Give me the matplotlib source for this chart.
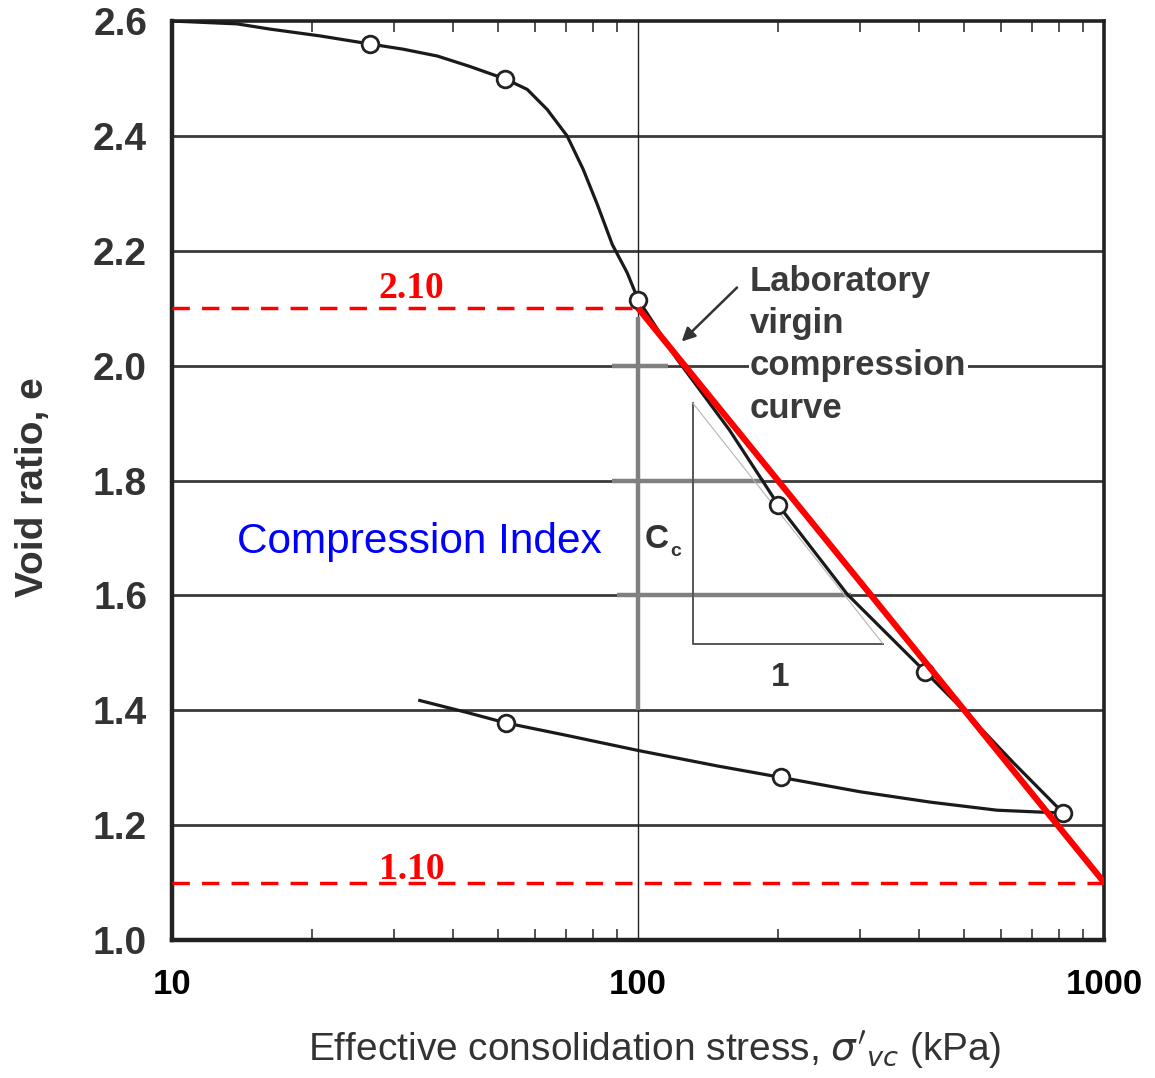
import matplotlib
matplotlib.use("Agg")
import matplotlib.pyplot as plt
from matplotlib.ticker import LogLocator, NullFormatter, FixedLocator, FixedFormatter

plt.rcParams['font.family'] = ['Liberation Sans', 'DejaVu Sans']

# ---- data ----
# virgin (loading) curve trace, stress in kPa, void ratio e
load_curve_x = [10, 13.8, 16.2, 20.8, 26.6, 31.3, 37.1, 43.5, 51.9, 57.8, 63.8, 70.4,
                76.2, 81.7, 88.0, 94.7, 100, 121, 157, 200, 281, 413, 498, 638, 817]
load_curve_e = [2.600, 2.595, 2.586, 2.574, 2.560, 2.551, 2.539, 2.521, 2.499, 2.481,
                2.446, 2.400, 2.342, 2.281, 2.211, 2.162, 2.115, 2.012, 1.888, 1.757,
                1.602, 1.467, 1.401, 1.309, 1.221]
# measured points (open circles) on loading branch
load_pts_x = [26.6, 51.9, 100, 200, 413, 817]
load_pts_e = [2.560, 2.499, 2.115, 1.757, 1.467, 1.221]
# unloading branch trace
unload_curve_x = [34, 43, 52, 70.5, 100, 148, 203, 300, 424, 589, 817]
unload_curve_e = [1.417, 1.396, 1.378, 1.356, 1.330, 1.303, 1.283, 1.258, 1.240, 1.226, 1.221]
unload_pts_x = [52, 203]
unload_pts_e = [1.378, 1.283]

# compression-index construction line (red) and its end values
cc_x = [100, 1000]
cc_e = [2.10, 1.10]
e_upper = 2.10
e_lower = 1.10

y_ticks = [1.0, 1.2, 1.4, 1.6, 1.8, 2.0, 2.2, 2.4, 2.6]
y_tick_labels = ["1.0", "1.2", "1.4", "1.6", "1.8", "2.0", "2.2", "2.4", "2.6"]
x_ticks = [10, 100, 1000]
x_tick_labels = ["10", "100", "1000"]

# ---- figure ----
fig = plt.figure(figsize=(11.55, 10.78), dpi=100)
ax = fig.add_axes([0.149, 0.128, 0.807, 0.8525])
ax.set_xscale('log')
ax.set_xlim(10, 1000)
ax.set_ylim(1.0, 2.6)

# horizontal grid lines
for yv in y_ticks[1:-1]:
    ax.axhline(yv, color='#3a3a3a', lw=2.0, zorder=1)
ax.axvline(100, color='#222222', lw=1.0, zorder=1)

# gray construction lines
gray = '#808080'
ax.plot([100, 100], [2.085, 1.40], color=gray, lw=3.2, zorder=2, solid_capstyle='butt')
ax.plot([87.9, 116], [2.0, 2.0], color=gray, lw=3.2, zorder=2, solid_capstyle='butt')
ax.plot([87.9, 186], [1.8, 1.8], color=gray, lw=3.2, zorder=2, solid_capstyle='butt')
ax.plot([90, 286], [1.6, 1.6], color=gray, lw=3.2, zorder=2, solid_capstyle='butt')

# slope triangle
ax.plot([131, 131, 335], [1.935, 1.516, 1.516], color='#555555', lw=1.4, zorder=2)
ax.plot([131, 335], [1.935, 1.516], color='#b5b5b5', lw=0.8, zorder=2)

# curves
ax.plot(load_curve_x, load_curve_e, color='#1a1a1a', lw=2.3, zorder=4,
        solid_joinstyle='round')
ax.plot(unload_curve_x, unload_curve_e, color='#1a1a1a', lw=2.3, zorder=4,
        solid_joinstyle='round')
ax.plot(load_pts_x, load_pts_e, 'o', mfc='white', mec='#222222', ms=12, mew=2.0, zorder=5)
ax.plot(unload_pts_x, unload_pts_e, 'o', mfc='white', mec='#222222', ms=12, mew=2.0, zorder=5)

# red lines
ax.plot([10, cc_x[0]], [e_upper, e_upper], color='red', lw=2.5, ls=(0, (5, 3.5)), zorder=6)
ax.plot([10, 1000], [e_lower, e_lower], color='red', lw=2.5, ls=(0, (5, 3.5)), zorder=6)
ax.plot(cc_x, cc_e, color='red', lw=4.5, zorder=7, solid_capstyle='butt')

# red value labels
ax.text(32.6, 2.118, "2.10", color='red', fontsize=27, fontweight='bold',
        family='Liberation Serif', ha='center', va='baseline', zorder=8)
ax.text(32.6, 1.106, "1.10", color='red', fontsize=27, fontweight='bold',
        family='Liberation Serif', ha='center', va='baseline', zorder=8)

# blue label
ax.text(34.0, 1.673, "Compression Index", color='#0000ff', fontsize=30.5,
        ha='center', va='baseline', zorder=8)

# Cc and 1 labels
ax.text(103.5, 1.682, "C", color='#333333', fontsize=24, fontweight='bold',
        ha='left', va='baseline', zorder=8)
ax.text(117, 1.668, "c", color='#333333', fontsize=14, fontweight='bold',
        ha='left', va='baseline', zorder=8)
ax.text(202, 1.443, "1", color='#333333', fontsize=24, fontweight='bold',
        ha='center', va='baseline', zorder=8)

# curve label with arrow
ax.text(173.8, 2.176, "Laboratory\nvirgin\ncompression\ncurve", color='#3a3a3a',
        fontsize=25, fontweight='bold', ha='left', va='top', linespacing=1.36,
        zorder=3, bbox=dict(facecolor='white', edgecolor='none', pad=1))
ax.annotate('', xy=(124, 2.042), xytext=(163, 2.136),
            arrowprops=dict(arrowstyle='-|>', color='#333333', lw=1.8,
                            mutation_scale=20, shrinkA=0, shrinkB=0), zorder=8)

# axes styling
for s in ax.spines.values():
    s.set_color('#222222')
    s.set_linewidth(2.6)
ax.spines['left'].set_linewidth(3.2)
ax.spines['bottom'].set_linewidth(3.2)

ax.xaxis.set_major_locator(FixedLocator(x_ticks))
ax.xaxis.set_major_formatter(FixedFormatter(x_tick_labels))
ax.xaxis.set_minor_locator(LogLocator(base=10, subs=[2, 3, 4, 5, 6, 7, 8, 9]))
ax.xaxis.set_minor_formatter(NullFormatter())
ax.set_yticks(y_ticks)
ax.set_yticklabels(y_tick_labels)

ax.tick_params(axis='x', which='major', length=0, pad=20, labelsize=25)
for lab in ax.get_xticklabels():
    lab.set_fontweight('bold')
    lab.set_color('black')
ax.tick_params(axis='x', which='minor', direction='in', length=8, width=1.2,
               color='#333333', top=True, bottom=True)
ax.tick_params(axis='y', which='major', length=0, pad=18, labelsize=28,
               labelcolor='#333333')
for lab in ax.get_yticklabels():
    lab.set_fontweight('bold')

fig.text(0.0286, 0.548, "Void ratio, e", rotation=90, fontsize=28, fontweight='bold',
         color='#333333', ha='center', va='center')
fig.text(0.567, 0.026, r"Effective consolidation stress, $\sigma'_{vc}$ (kPa)",
         fontsize=28, color='#333333', ha='center', va='center')

fig.savefig("out.png", dpi=100, facecolor='white')
